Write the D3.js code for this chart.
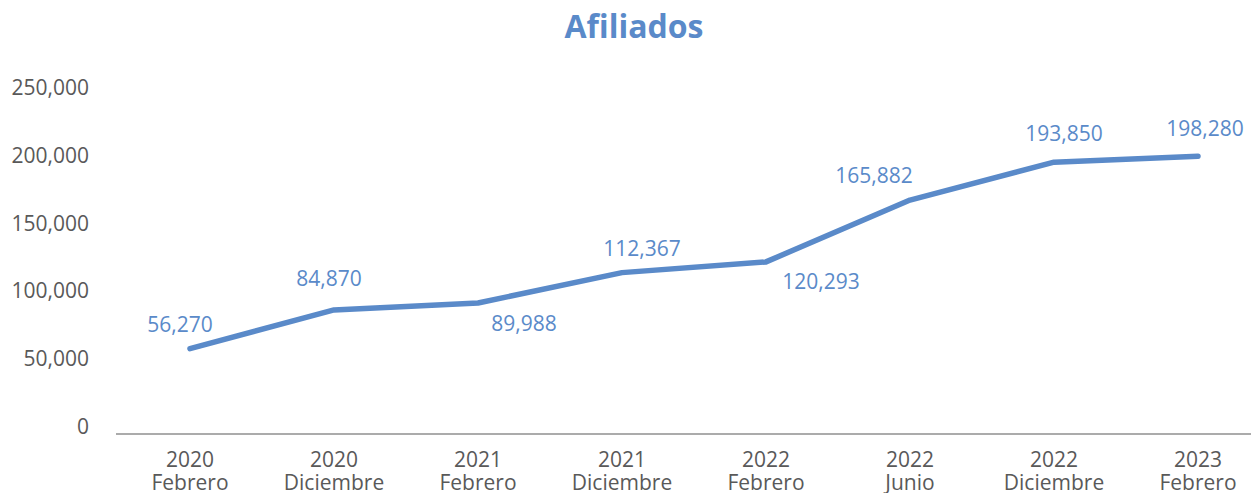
<!DOCTYPE html>
<html>
<head>
<meta charset="utf-8">
<script src="https://cdn.jsdelivr.net/npm/d3@7"></script>
<style>
  html, body { margin: 0; padding: 0; background: #ffffff; }
  svg { display: block; }
  text { font-family: "Open Sans", "DejaVu Sans", sans-serif; }
</style>
</head>
<body>
<script>
// ---- Data ----
const years = ["2020", "2020", "2021", "2021", "2022", "2022", "2022", "2023"];
const months = ["Febrero", "Diciembre", "Febrero", "Diciembre", "Febrero", "Junio", "Diciembre", "Febrero"];
const afiliados = [56270, 84870, 89988, 112367, 120293, 165882, 193850, 198280];
const yTicks = [0, 50000, 100000, 150000, 200000, 250000];
const title = "Afiliados";

// ---- Layout (label placement offsets, px, relative to point) ----
const labelDx = [-10, -5, 46, 20, 55, -36, 10, 7];
const labelDy = [-24, -31, 21, -24, 20, -25, -29, -28];

const W = 1251, H = 493;
const FONT = 21;
const lineColor = "#5A8AC9";
const textGray = "#595959";

const svg = d3.select("body").append("svg").attr("width", W).attr("height", H);

const cats = years.map((y, i) => i);
const x = d3.scaleBand().domain(cats).range([118, 1270]).padding(0);
const y = d3.scaleLinear().domain([0, 250000]).range([425, 86]);
const cx = i => x(i) + x.bandwidth() / 2;

// Title
svg.append("text")
  .attr("x", 634).attr("y", 38)
  .attr("text-anchor", "middle")
  .attr("font-size", 32).attr("font-weight", 700)
  .attr("fill", lineColor)
  .text(title);

// Y axis labels
const yAxis = d3.axisLeft(y).tickValues(yTicks).tickFormat(d3.format(",")).tickSize(0).tickPadding(0);
const gy = svg.append("g").attr("transform", "translate(89,0)").call(yAxis);
gy.select(".domain").remove();
gy.selectAll("text")
  .attr("font-size", FONT)
  .attr("font-family", "'Open Sans', sans-serif")
  .attr("fill", textGray)
  .attr("x", 0)
  .attr("dy", null)
  .attr("y", 8.5)
  .attr("text-anchor", "end");

// Category axis line
svg.append("line")
  .attr("x1", 116).attr("x2", W)
  .attr("y1", y(0) + 9).attr("y2", y(0) + 9)
  .attr("stroke", "#ABABAB").attr("stroke-width", 2);

// Category labels
const gx = svg.append("g");
cats.forEach(i => {
  const t = gx.append("text")
    .attr("x", cx(i))
    .attr("text-anchor", "middle")
    .attr("font-size", FONT)
    .attr("fill", textGray);
  t.append("tspan").attr("x", cx(i)).attr("y", 467).text(years[i]);
  t.append("tspan").attr("x", cx(i)).attr("y", 490).text(months[i]);
});

// Line
const line = d3.line().x((d, i) => cx(i)).y(d => y(d));
svg.append("path")
  .datum(afiliados)
  .attr("d", line)
  .attr("fill", "none")
  .attr("stroke", lineColor)
  .attr("stroke-width", 5.5)
  .attr("stroke-linecap", "round")
  .attr("stroke-linejoin", "round");

// Data labels
svg.append("g").selectAll("text")
  .data(afiliados)
  .join("text")
  .attr("x", (d, i) => cx(i) + labelDx[i])
  .attr("y", (d, i) => y(d) + labelDy[i] + 7.5)
  .attr("text-anchor", "middle")
  .attr("font-size", FONT)
  .attr("fill", lineColor)
  .text(d => d3.format(",")(d));
</script>
</body>
</html>
